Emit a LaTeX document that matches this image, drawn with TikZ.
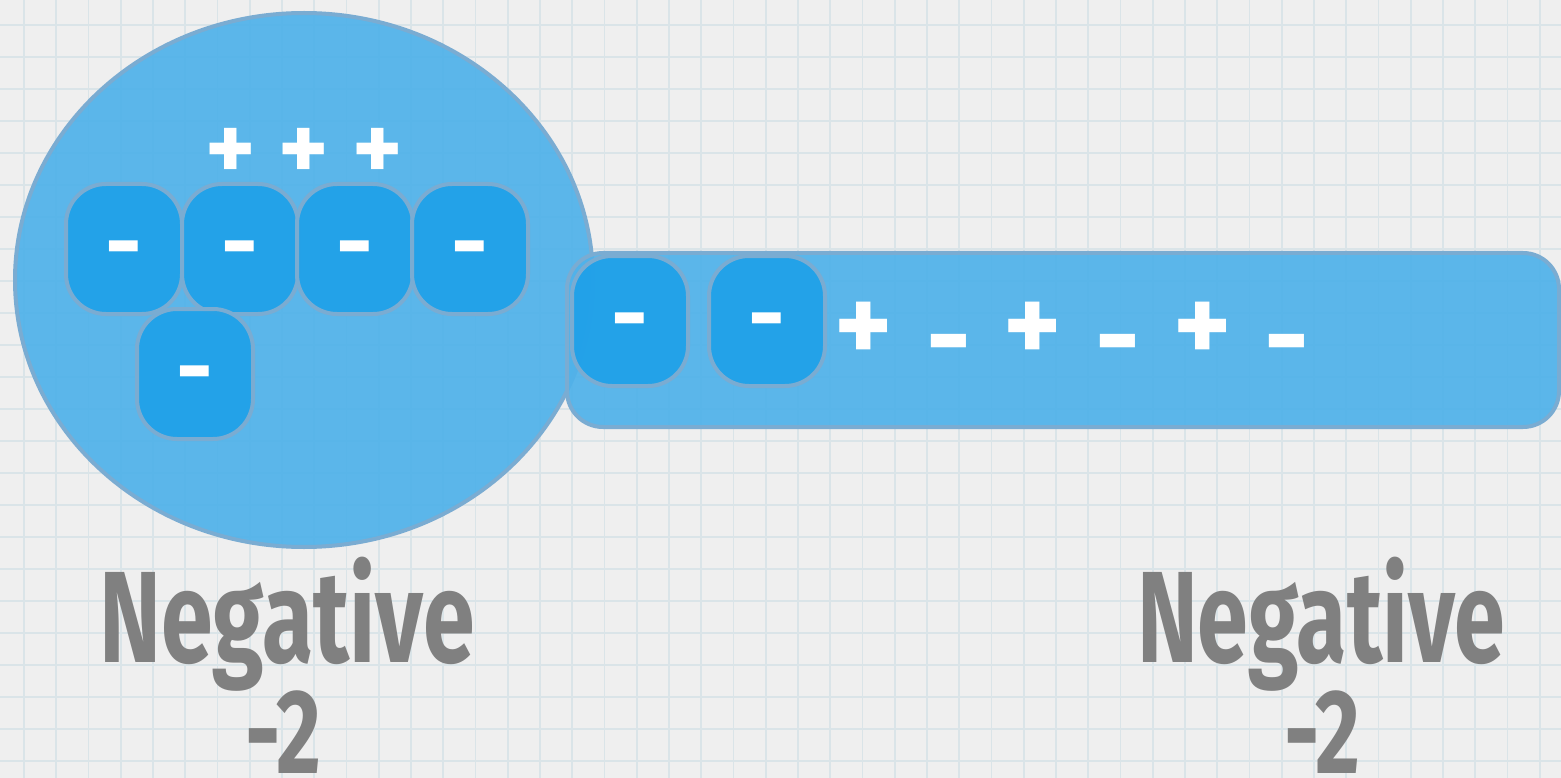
\documentclass[tikz,border=0pt]{standalone}
\usepackage{fontspec}
\setmainfont{Fira Sans}
\usetikzlibrary{shapes.geometric}
\definecolor{bgc}{RGB}{239,239,239}
\definecolor{gridc}{RGB}{218,228,232}
\definecolor{bigfill}{RGB}{80,178,234}
\definecolor{tilefill}{RGB}{30,160,232}
\definecolor{edgec}{RGB}{122,172,210}
\definecolor{labc}{RGB}{128,128,128}
\tikzset{
  tile/.style={draw=edgec, line width=4pt, fill=tilefill, fill opacity=0.9, text opacity=1,
    rounded corners=40pt, minimum width=116pt, minimum height=130pt, inner sep=0pt,
    text=white, font=\fontsize{90pt}{90pt}\selectfont\bfseries, text height=50pt, text depth=0pt},
  bigshape/.style={draw=edgec, line width=4pt, fill=bigfill, fill opacity=0.93, inner sep=0pt},
  wsign/.style={text=white, inner sep=0pt},
  lab/.style={text=labc, inner sep=0pt, font=\fontsize{130pt}{130pt}\selectfont\bfseries},
  num/.style={text=labc, inner sep=0pt, font=\fontsize{120pt}{120pt}\selectfont\bfseries},
  gridline/.style={draw=gridc, line width=1.6pt}
}
\begin{document}
\begin{tikzpicture}[x=1pt,y=-1pt]
\fill[bgc] (0,0) rectangle (1561,778);
\useasboundingbox (0,0) rectangle (1561,778);
\foreach \k in {0,...,47} \draw[gridline] (24+32.25*\k,0) -- (24+32.25*\k,778);
\foreach \k in {0,...,23} \draw[gridline] (0,25+32*\k) -- (1561,25+32*\k);

\node[bigshape, ellipse, minimum width=578pt, minimum height=534pt] (circ) at (304,280) {};
\node[bigshape, rounded corners=36pt, minimum width=992pt, minimum height=174pt] (bar) at (1063,340) {};

\node[tile] (b1) at (124,249) {-};
\node[tile] (b2) at (240,249) {-};
\node[tile] (b3) at (355,249) {-};
\node[tile] (b4) at (470,249) {-};
\node[tile] (b5) at (195,374) {-};
\node[tile] (bA) at (630,321) {-};
\node[tile] (bB) at (767,321) {-};

\node[wsign, font=\fontsize{95pt}{95pt}\selectfont\bfseries] (plusrow) at (304,154) {+\hspace{23pt}+\hspace{23pt}+};
\node[wsign, font=\fontsize{110pt}{110pt}\selectfont\bfseries] (barsigns) at (1072,339)
  {+\hspace{33pt}\raisebox{-13pt}{-}\hspace{33pt}+\hspace{33pt}\raisebox{-13pt}{-}\hspace{33pt}+\hspace{33pt}\raisebox{-13pt}{-}};

\node[lab, anchor=base] (negL) at (287,662) {\resizebox{375pt}{\height}{Negative}};
\node[num, anchor=base] (numL) at (283,773) {\resizebox{76pt}{\height}{-2}};
\node[lab, anchor=base] (negR) at (1321,662) {\resizebox{368pt}{\height}{Negative}};
\node[num, anchor=base] (numR) at (1322,773) {\resizebox{76pt}{\height}{-2}};
\end{tikzpicture}
\end{document}
